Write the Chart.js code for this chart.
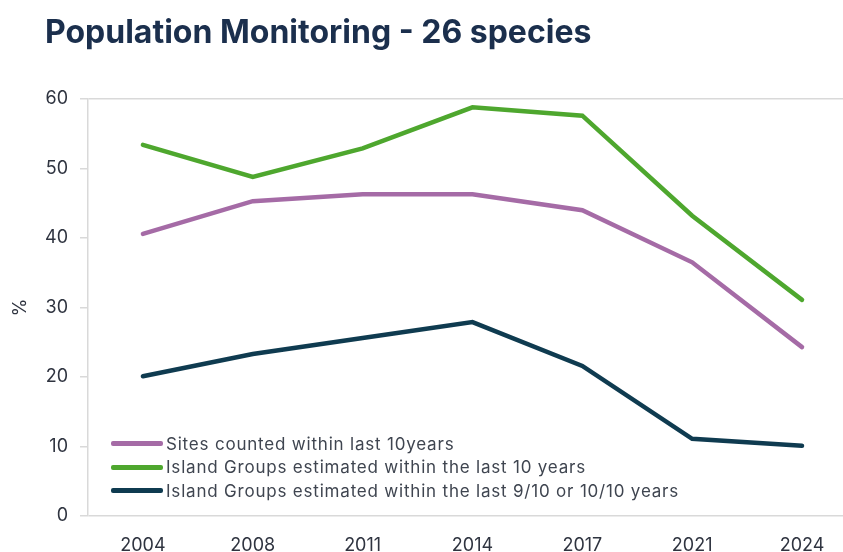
<!DOCTYPE html>
<html>
<head>
<meta charset="utf-8">
<script src="https://cdn.jsdelivr.net/npm/chart.js@4"></script>
<style>
	html, body { margin: 0; padding: 0; background: #fff; overflow: hidden; }
	#wrap { position: relative; width: 843px; height: 552px; }
	#title {
		position: absolute; left: 45px; top: 12px;
		font: bold 32px Inter, "Noto Sans", sans-serif; color: #1b2f4d;
		white-space: nowrap; letter-spacing: 0px;
	}
	#legend { position: absolute; left: 111px; top: 432px; }
	#legend .item { display: flex; align-items: center; height: 23.5px; }
	#legend .swatch { width: 52px; height: 5px; border-radius: 2px; margin-right: 3px; }
	#legend .label { font: 17px Inter, "Noto Sans", sans-serif; color: #3f4550; white-space: nowrap; letter-spacing: 0.8px; }
</style>
</head>
<body>
<div id="wrap">
	<canvas id="line-chart" width="843" height="552"></canvas>
	<div id="title">Population Monitoring - 26 species</div>
	<div id="legend"></div>
</div>
<script>
	var years = ['2004', '2008', '2011', '2014', '2017', '2021', '2024'];
	var sites = [40.6, 45.3, 46.3, 46.3, 44.0, 36.5, 24.3];
	var groups10 = [53.4, 48.8, 52.9, 58.8, 57.6, 43.2, 31.1];
	var groups910 = [20.1, 23.3, 25.6, 27.9, 21.6, 11.1, 10.1];
	var yTicks = [0, 10, 20, 30, 40, 50, 60];

	function points(values) {
		return values.map(function (v, i) { return { x: i, y: v }; });
	}

	var datasets = [
		{ label: 'Sites counted within last 10years', data: points(sites), borderColor: '#a56ba6' },
		{ label: 'Island Groups estimated within the last 10 years', data: points(groups10), borderColor: '#4ea72e' },
		{ label: 'Island Groups estimated within the last 9/10 or 10/10 years', data: points(groups910), borderColor: '#0f3b50' }
	];
	datasets.forEach(function (d) {
		d.borderWidth = 4.5;
		d.pointRadius = 0;
		d.tension = 0;
		d.borderCapStyle = 'round';
		d.fill = false;
	});

	var tickFont = { family: 'Inter, "Noto Sans", sans-serif', size: 18 };

	new Chart(document.getElementById('line-chart'), {
		type: 'line',
		data: { datasets: datasets },
		options: {
			responsive: false,
			animation: false,
			layout: { padding: { top: 99, right: 0, bottom: 0, left: 0 } },
			plugins: {
				legend: { display: false },
				title: { display: false },
				tooltip: { enabled: false }
			},
			scales: {
				x: {
					type: 'linear',
					min: -0.5,
					max: 6.373,
					grid: { display: false },
					border: { display: false },
					ticks: {
						stepSize: 1,
						includeBounds: false,
						autoSkip: false,
						maxRotation: 0,
						padding: 11,
						color: '#2f3440',
						font: tickFont,
						callback: function (v) { return Number.isInteger(v) ? years[v] : ''; }
					},
					afterFit: function (scale) { scale.height = 36; }
				},
				y: {
					min: yTicks[0],
					max: yTicks[yTicks.length - 1],
					afterBuildTicks: function (scale) {
						scale.ticks = yTicks.map(function (v) { return { value: v }; });
					},
					grid: {
						color: function (ctx) {
							var v = ctx.tick && ctx.tick.value;
							return (v === yTicks[0] || v === yTicks[yTicks.length - 1]) ? '#d9d9d9' : 'rgba(0,0,0,0)';
						},
						tickColor: '#d9d9d9',
						tickLength: 8,
						lineWidth: 1.5
					},
					border: { display: true, color: '#d9d9d9', width: 1.5 },
					ticks: { padding: 12, color: '#2f3440', font: tickFont },
					title: {
						display: true,
						text: '%',
						color: '#2f3440',
						font: { family: 'Inter, "Noto Sans", sans-serif', size: 18 },
						padding: { top: 10, bottom: 0 }
					},
					afterFit: function (scale) { scale.width = 88; }
				}
			}
		}
	});

	// Legend inside the plot, bottom left.
	var legend = document.getElementById('legend');
	datasets.forEach(function (d) {
		var item = document.createElement('div');
		item.className = 'item';
		item.innerHTML = "<span class='swatch' style='background:" + d.borderColor + "'></span><span class='label'></span>";
		item.querySelector('.label').textContent = d.label;
		legend.appendChild(item);
	});
</script>
</body>
</html>
